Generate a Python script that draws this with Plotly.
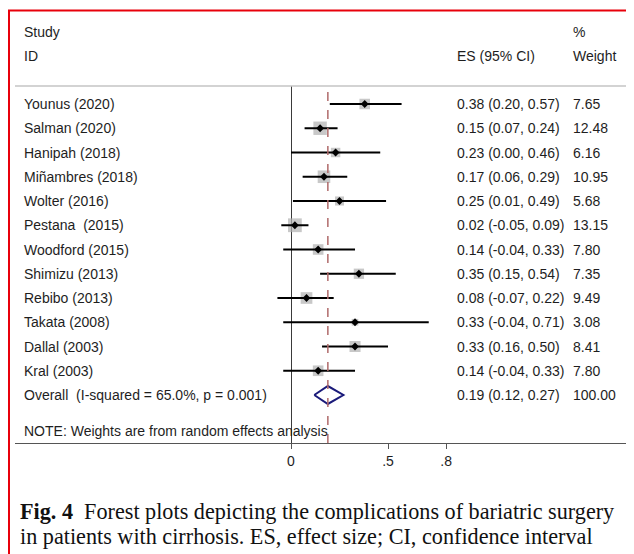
import plotly.graph_objects as go
import math

studies = ["Younus (2020)", "Salman (2020)", "Hanipah (2018)", "Miñambres (2018)",
           "Wolter (2016)", "Pestana\u00a0 (2015)", "Woodford (2015)", "Shimizu (2013)",
           "Rebibo (2013)", "Takata (2008)", "Dallal (2003)", "Kral (2003)"]
es = [0.38, 0.15, 0.23, 0.17, 0.25, 0.02, 0.14, 0.35, 0.08, 0.33, 0.33, 0.14]
lo = [0.20, 0.07, 0.00, 0.06, 0.01, -0.05, -0.04, 0.15, -0.07, -0.04, 0.16, -0.04]
hi = [0.57, 0.24, 0.46, 0.29, 0.49, 0.09, 0.33, 0.54, 0.22, 0.71, 0.50, 0.33]
weights = [7.65, 12.48, 6.16, 10.95, 5.68, 13.15, 7.80, 7.35, 9.49, 3.08, 8.41, 7.80]

overall_label = "Overall\u00a0 (I-squared = 65.0%, p = 0.001)"
overall_es, overall_lo, overall_hi, overall_w = 0.19, 0.12, 0.27, 100.00

tick_vals = [0, 0.5, 0.8]
tick_text = ["0", ".5", ".8"]

# page has an 8px body margin; work in screen pixels and convert
OFF = 8
W, H = 634 - OFF, 554 - OFF
L, R, T, B = 15, 634, 86, 443   # plot area in screen pixels


def px(x):
    return (x - L) / (R - L)


def py(y):
    return (B - y) / (B - T)


n = len(studies)
rows = list(range(n))
ov_row = n

TXT = "#1e1e1e"
FONT = "Liberation Sans, Arial, sans-serif"

fig = go.Figure()

# weight boxes
fig.add_trace(go.Scatter(
    x=es, y=rows, mode="markers",
    marker=dict(symbol="square", size=[3.8 * math.sqrt(w) for w in weights],
                color="#b0b0b0", line=dict(width=0)),
    hoverinfo="skip", showlegend=False))

# point estimates with CI
fig.add_trace(go.Scatter(
    x=es, y=rows, mode="markers",
    marker=dict(symbol="diamond", size=6, color="black"),
    error_x=dict(type="data", symmetric=False,
                 array=[h - e for h, e in zip(hi, es)],
                 arrayminus=[e - l for e, l in zip(es, lo)],
                 width=0, thickness=2, color="black"),
    hoverinfo="skip", showlegend=False))

# overall diamond
dh = 0.37
fig.add_trace(go.Scatter(
    x=[overall_lo, overall_es, overall_hi, overall_es, overall_lo],
    y=[ov_row, ov_row - dh, ov_row, ov_row + dh, ov_row],
    mode="lines", line=dict(color="#1a1a7a", width=2),
    hoverinfo="skip", showlegend=False))

# x range so that 0 sits at 291px and 1 unit = 194px
x0 = (L - 291) / 194
x1 = (R - 291) / 194
row_px0, row_step = 104, 24.25
y_top = (T - row_px0) / row_step
y_bot = (B - row_px0) / row_step

fig.update_xaxes(range=[x0, x1], showgrid=False, zeroline=True,
                 zerolinecolor="#3a3a3a", zerolinewidth=1,
                 showline=True, linecolor="#555555", linewidth=1,
                 ticks="outside", ticklen=5, tickcolor="#555555",
                 tickvals=tick_vals, ticktext=tick_text,
                 tickfont=dict(family=FONT, size=14, color=TXT))
fig.update_yaxes(range=[y_bot, y_top], showgrid=False, zeroline=False,
                 showticklabels=False, showline=False)

ann = []


def add_text(text, x, y, size=14, family=FONT, color=TXT, xanchor="left"):
    ann.append(dict(text=text, x=px(x), y=py(y), xref="paper", yref="paper",
                    xanchor=xanchor, yanchor="middle", showarrow=False,
                    font=dict(family=family, size=size, color=color)))


add_text("Study", 22, 32)
add_text("ID", 22, 56)
add_text("%", 571, 32)
add_text("ES (95% CI)", 455, 56)
add_text("Weight", 571, 56)

for i, s in enumerate(studies):
    yy = row_px0 + row_step * i
    add_text(s, 22, yy)
    add_text(f"{es[i]:.2f} ({lo[i]:.2f}, {hi[i]:.2f})", 455, yy)
    add_text(f"{weights[i]:.2f}", 571, yy)

yy = row_px0 + row_step * ov_row
add_text(overall_label, 22, yy)
add_text(f"{overall_es:.2f} ({overall_lo:.2f}, {overall_hi:.2f})", 455, yy)
add_text(f"{overall_w:.2f}", 571, yy)

add_text("NOTE: Weights are from random effects analysis", 22, 431)

SERIF = "Liberation Serif, Times New Roman, serif"
add_text("<b>Fig. 4</b>\u00a0 Forest plots depicting the complications of bariatric surgery",
         18, 511, size=22.2, family=SERIF, color="#111111")
add_text("in patients with cirrhosis. ES, effect size; CI, confidence interval",
         18, 536, size=22.2, family=SERIF, color="#111111")

shapes = [
    # header separator
    dict(type="line", xref="paper", yref="paper", x0=0, x1=1, y0=1, y1=1,
         line=dict(color="#c4c4c4", width=1.5)),
    # overall effect dashed line
    dict(type="line", xref="x", yref="paper", x0=overall_es, x1=overall_es, y0=0, y1=1,
         line=dict(color="#b06a6a", width=1.5, dash="dash"), layer="above"),
    # red frame
    dict(type="line", xref="paper", yref="paper", x0=px(9), x1=px(9), y0=py(10), y1=py(560),
         line=dict(color="#e8000b", width=2)),
    dict(type="line", xref="paper", yref="paper", x0=px(8), x1=px(640), y0=py(10.5), y1=py(10.5),
         line=dict(color="#e8000b", width=2)),
]

fig.update_layout(width=W, height=H,
                  margin=dict(l=L - OFF, r=634 - R, t=T - OFF, b=554 - B),
                  paper_bgcolor="white", plot_bgcolor="white",
                  annotations=ann, shapes=shapes, showlegend=False)

fig.write_html("out.html")
